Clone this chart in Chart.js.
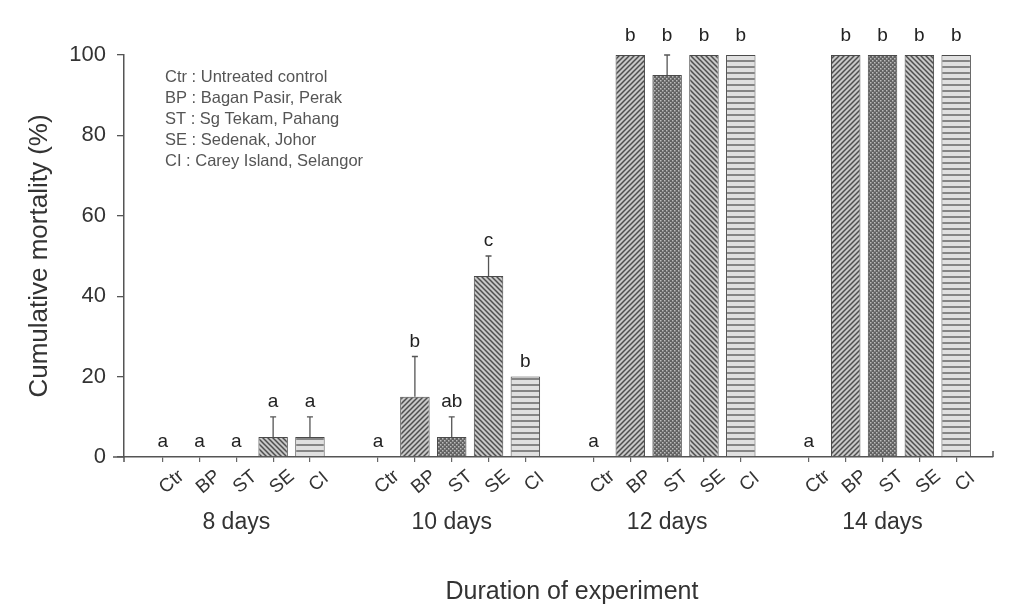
<!DOCTYPE html>
<html><head><meta charset="utf-8">
<script src="https://cdn.jsdelivr.net/npm/chart.js@4.4.0/dist/chart.umd.min.js"></script>
<style>html,body{margin:0;padding:0;background:#fff;}</style>
</head><body>
<canvas id="c" width="1009" height="608"></canvas>
<script>
// ---- data ----
const groups = ['8 days', '10 days', '12 days', '14 days'];
const sites = ['Ctr', 'BP', 'ST', 'SE', 'CI'];
const legendLines = ['Ctr : Untreated control', 'BP : Bagan Pasir, Perak', 'ST : Sg Tekam, Pahang', 'SE : Sedenak, Johor', 'CI : Carey Island, Selangor'];
const ctrMortality = [0, 0, 0, 0];
const bpMortality = [0, 15, 100, 100];
const stMortality = [0, 5, 95, 100];
const seMortality = [5, 45, 100, 100];
const ciMortality = [5, 20, 100, 100];
const ctrError = [0, 0, 0, 0];
const bpError = [0, 10, 0, 0];
const stError = [0, 5, 5, 0];
const seError = [5, 5, 0, 0];
const ciError = [5, 0, 0, 0];
const ctrLetters = ['a', 'a', 'a', 'a'];
const bpLetters = ['a', 'b', 'b', 'b'];
const stLetters = ['a', 'ab', 'b', 'b'];
const seLetters = ['a', 'c', 'b', 'b'];
const ciLetters = ['a', 'b', 'b', 'b'];
const yTickStep = 20;
const yMax = 100;
const xTitle = 'Duration of experiment';
const yTitle = 'Cumulative mortality (%)';

// ---- layout helpers ----
const GROUP_STEP = 5.85;
const pos = (g, i) => g * GROUP_STEP + i;
const siteVals = [ctrMortality, bpMortality, stMortality, seMortality, ciMortality];
const siteErr = [ctrError, bpError, stError, seError, ciError];
const siteLetters = [ctrLetters, bpLetters, stLetters, seLetters, ciLetters];

function makePattern(kind) {
  const c = document.createElement('canvas');
  const g = c.getContext('2d');
  if (kind === 'fwd' || kind === 'back') {
    const s = 5; c.width = s; c.height = s;
    g.fillStyle = '#c8c8c8'; g.fillRect(0, 0, s, s);
    g.strokeStyle = '#4e4e4e'; g.lineWidth = 1.5;
    g.beginPath();
    if (kind === 'fwd') {
      g.moveTo(0, s); g.lineTo(s, 0);
      g.moveTo(-1, 1); g.lineTo(1, -1);
      g.moveTo(s - 1, s + 1); g.lineTo(s + 1, s - 1);
    } else {
      g.moveTo(0, 0); g.lineTo(s, s);
      g.moveTo(-1, s - 1); g.lineTo(1, s + 1);
      g.moveTo(s - 1, -1); g.lineTo(s + 1, 1);
    }
    g.stroke();
  } else if (kind === 'dots') {
    const s = 4; c.width = s; c.height = s;
    g.fillStyle = '#626262'; g.fillRect(0, 0, s, s);
    g.fillStyle = '#bcbcbc';
    g.fillRect(0, 0, 1.5, 1.5); g.fillRect(2, 2, 1.5, 1.5);
  } else if (kind === 'horiz') {
    c.width = 6; c.height = 6;
    g.fillStyle = '#e0e0e0'; g.fillRect(0, 0, 6, 6);
    g.fillStyle = '#858585'; g.fillRect(0, 0, 6, 2);
  } else {
    c.width = 2; c.height = 2; g.fillStyle = '#fff'; g.fillRect(0, 0, 2, 2);
  }
  return g.createPattern(c, 'repeat');
}
const patterns = [makePattern('none'), makePattern('fwd'), makePattern('dots'), makePattern('back'), makePattern('horiz')];

const datasets = sites.map((s, i) => ({
  label: s,
  data: siteVals[i].map((v, g) => ({ x: pos(g, i), y: v })),
  backgroundColor: patterns[i],
  borderColor: '#4a4a4a',
  borderWidth: ctx => (ctx.raw && ctx.raw.y > 0 ? 1 : 0),
  borderSkipped: 'start',
  barPercentage: 0.8,
  categoryPercentage: 1.0,
  grouped: false
}));

const tickPositions = [];
groups.forEach((g, gi) => sites.forEach((s, i) => tickPositions.push(pos(gi, i))));

const annot = {
  id: 'annot',
  afterDraw(chart) {
    const ctx = chart.ctx, xs = chart.scales.x, ys = chart.scales.y;
    const base = ys.getPixelForValue(0);
    ctx.save();
    // axis decorations
    ctx.strokeStyle = '#555'; ctx.lineWidth = 1.5;
    ctx.beginPath();
    ctx.moveTo(xs.left - 11, base); ctx.lineTo(xs.left, base);
    ctx.moveTo(xs.left, base); ctx.lineTo(xs.left, base + 5);
    ctx.moveTo(xs.right, base); ctx.lineTo(xs.right, base - 6);
    ctx.stroke();
    // error bars + letters
    ctx.fillStyle = '#222';
    ctx.font = '19px "Liberation Sans", Arial, sans-serif';
    ctx.textAlign = 'center'; ctx.textBaseline = 'alphabetic';
    siteVals.forEach((vals, i) => {
      vals.forEach((v, g) => {
        const px = xs.getPixelForValue(pos(g, i));
        const e = siteErr[i][g];
        const topVal = v + e;
        if (e > 0) {
          const y0 = ys.getPixelForValue(v), y1 = ys.getPixelForValue(topVal);
          ctx.strokeStyle = '#555'; ctx.lineWidth = 1.3;
          ctx.beginPath();
          ctx.moveTo(px, y0); ctx.lineTo(px, y1);
          ctx.moveTo(px - 3, y1); ctx.lineTo(px + 3, y1);
          ctx.stroke();
        }
        const off = topVal >= 100 ? 14 : 10;
        ctx.fillText(siteLetters[i][g], px, ys.getPixelForValue(topVal) - off);
      });
    });
    // rotated site labels
    ctx.fillStyle = '#333';
    ctx.textAlign = 'center'; ctx.textBaseline = 'middle';
    groups.forEach((gname, g) => {
      ctx.font = '19px "Liberation Sans", Arial, sans-serif';
      sites.forEach((s, i) => {
        const px = xs.getPixelForValue(pos(g, i));
        ctx.save();
        ctx.translate(px + 9, base + 25);
        ctx.rotate(-40 * Math.PI / 180);
        ctx.fillText(s, 0, 0);
        ctx.restore();
      });
      ctx.font = '23px "Liberation Sans", Arial, sans-serif';
      ctx.fillText(gname, xs.getPixelForValue(pos(g, 2)), base + 66);
    });
    // legend text
    ctx.fillStyle = '#555';
    ctx.font = '16.5px "Liberation Sans", Arial, sans-serif';
    ctx.textAlign = 'left'; ctx.textBaseline = 'middle';
    legendLines.forEach((t, k) => ctx.fillText(t, 165, 77 + k * 21));
    // x title
    ctx.fillStyle = '#333';
    ctx.font = '25px "Liberation Sans", Arial, sans-serif';
    ctx.textAlign = 'center';
    ctx.fillText(xTitle, 572, 592);
    ctx.restore();
  }
};

new Chart(document.getElementById('c'), {
  type: 'bar',
  data: { datasets },
  options: {
    responsive: false,
    animation: false,
    layout: { padding: { top: 55, right: 16, left: 0, bottom: 0 } },
    plugins: { legend: { display: false }, tooltip: { enabled: false } },
    scales: {
      x: {
        type: 'linear',
        offset: false,
        min: -1.05,
        max: 3 * GROUP_STEP + 5,
        afterBuildTicks: s => { s.ticks = tickPositions.map(v => ({ value: v })); },
        afterFit: s => { s.height = 151; },
        ticks: { display: false },
        grid: { offset: false, drawOnChartArea: false, drawTicks: true, tickLength: 5, color: '#666', lineWidth: 1.2 },
        border: { display: true, color: '#555', width: 1.5 }
      },
      y: {
        min: 0, max: yMax,
        afterFit: s => { s.width = 124; },
        ticks: { stepSize: yTickStep, color: '#333', padding: 11, font: { size: 22, family: '"Liberation Sans", Arial, sans-serif' } },
        grid: { drawOnChartArea: false, drawTicks: true, tickLength: 7, color: '#555', lineWidth: 1.3 },
        border: { display: true, color: '#555', width: 1.5 },
        title: { display: true, text: yTitle, color: '#333', padding: { top: 24, bottom: 0 }, font: { size: 26, family: '"Liberation Sans", Arial, sans-serif' } }
      }
    }
  },
  plugins: [annot]
});
</script>
</body></html>
